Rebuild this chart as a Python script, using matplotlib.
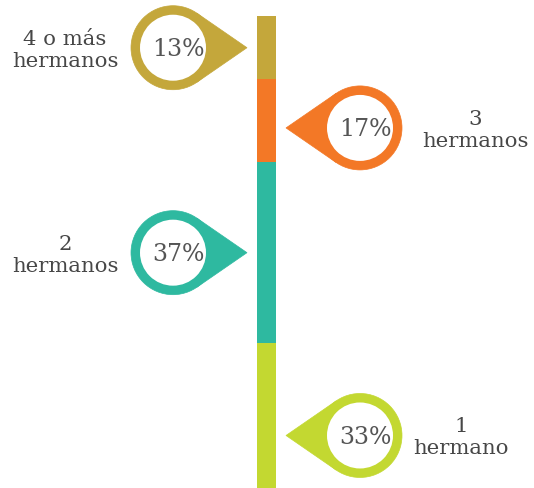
import numpy as np
import matplotlib
matplotlib.use('Agg')
import matplotlib.pyplot as plt
from matplotlib.patches import Circle, Polygon

# ---- data ----
categories = ['4 o más\nhermanos', '3\nhermanos', '2\nhermanos', '1\nhermano']
values = [13, 17, 37, 33]
pct_labels = ['13%', '17%', '37%', '33%']
colors = ['#C4A73B', '#F37826', '#2EB9A0', '#C3D831']

# ---- layout ----
sides = [-1, 1, -1, 1]              # pin on left (-1) or right (+1) of bar
pin_shift = [0, -7, 0, -12]         # vertical pin shift in px (y-up)
label_x = [65, 475, 65, 461]
W, H, DPI = 534, 488, 100
scale = 4.88                        # px per percent
top_px = 16
bar_x, bar_w = 266.5, 19
R_OUT, R_IN, TIP_D, GAP = 42, 33, 74, 10
TXT = '#474747'
FONT = 'DejaVu Serif'

fig = plt.figure(figsize=(W / DPI, H / DPI), dpi=DPI)
fig.patch.set_facecolor('white')
ax = fig.add_axes([0, 0, 1, 1])
ax.set_xlim(0, W)
ax.set_ylim((H - top_px) / scale, -top_px / scale)
ax.axis('off')

bottoms = np.concatenate([[0], np.cumsum(values)[:-1]])
ax.bar(bar_x, values, bottom=bottoms, width=bar_w, color=colors,
       align='center', linewidth=0)

ov = fig.add_axes([0, 0, 1, 1])
ov.set_xlim(0, W)
ov.set_ylim(0, H)
ov.axis('off')
ov.patch.set_alpha(0)

theta = np.arccos(R_OUT / TIP_D)
for i, (cat, v, b, lab, col, s) in enumerate(zip(categories, values, bottoms,
                                                   pct_labels, colors, sides)):
    mid = b + v / 2
    px, py = ax.transData.transform((bar_x, mid))
    py += pin_shift[i]
    if s < 0:
        tip_x = (bar_x - bar_w / 2) - GAP
        cx = tip_x - TIP_D
        phi = 0.0
    else:
        tip_x = (bar_x + bar_w / 2) + GAP
        cx = tip_x + TIP_D
        phi = np.pi
    cy = py
    t1 = (cx + R_OUT * np.cos(phi + theta), cy + R_OUT * np.sin(phi + theta))
    t2 = (cx + R_OUT * np.cos(phi - theta), cy + R_OUT * np.sin(phi - theta))
    ov.add_patch(Polygon([(tip_x, cy), t1, (cx, cy), t2], closed=True,
                         facecolor=col, edgecolor=col, linewidth=0.5))
    ov.add_patch(Circle((cx, cy), R_OUT, facecolor=col, edgecolor=col, linewidth=0.5))
    ov.add_patch(Circle((cx, cy), R_IN, facecolor='white', edgecolor='none'))
    ov.text(cx + 5, cy - 8.5, lab, ha='center', va='baseline', fontsize=17,
            color='#555555', family=FONT)
    lines = cat.split('\n')
    ov.text(label_x[i], cy + 3, lines[0], ha='center', va='baseline',
            fontsize=15.3, color=TXT, family=FONT)
    ov.text(label_x[i], cy - 19, lines[1], ha='center', va='baseline',
            fontsize=15.3, color=TXT, family=FONT)

fig.savefig('out.png', dpi=DPI)
